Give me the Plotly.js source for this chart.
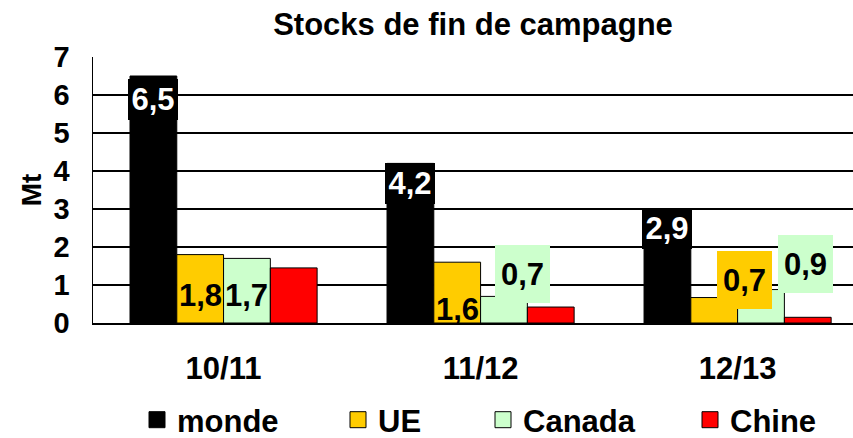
<!DOCTYPE html>
<html>
<head>
<meta charset="utf-8">
<script src="https://cdn.plot.ly/plotly-3.0.1.min.js"></script>
<style>html,body{margin:0;padding:0;background:#fff}#chart{width:853px;height:438px}</style>
</head>
<body>
<div id="chart"></div>
<script>
// ---- data ----
const categories = ['10/11', '11/12', '12/13'];
const seriesNames = ['monde', 'UE', 'Canada', 'Chine'];
const monde  = [6.5, 4.2, 2.9];
const ue     = [1.8, 1.6, 0.67];
const canada = [1.7, 0.7, 0.88];
const chine  = [1.45, 0.42, 0.15];
const yTicks = [0, 1, 2, 3, 4, 5, 6, 7];

// ---- style ----
const FONT = 'Liberation Sans, Arial, sans-serif';
const colors = ['#000000', '#FFCC00', '#CCFFCC', '#FF0000'];
const W = 853, H = 438;
const M = {l: 93, r: 0, t: 57, b: 115};
const xRange = [-0.508, 2.449];
const bargap = 0.272;
const legendLeftPx = [137, 338, 483, 690];   // legend entry positions (px)
const legendIds = ['legend', 'legend2', 'legend3', 'legend4'];

// label styling per series: [dx, dy] offsets (px) of label centre from bar top-centre
const labelStyle = {
  0: {color: '#fff', off: [[0, 23], [0, 20], [0, 16]], boxIdx: [0, 1, 2]},
  1: {color: '#000', off: [[0, 40], [0, 47], [30, -18]], boxIdx: [2]},
  2: {color: '#000', off: [[0, 37], [19, -22], [45, -26]], boxIdx: [1, 2]}
};

const allSeries = [monde, ue, canada, chine];
const fmt = v => v.toFixed(1).replace('.', ',');

const traces = allSeries.map((vals, i) => ({
  type: 'bar',
  name: seriesNames[i],
  showlegend: false,
  x: categories,
  y: vals,
  marker: {color: colors[i], line: {color: '#000', width: 1}},
  hoverinfo: 'skip'
}));
// legend entries (square keys, one per series)
seriesNames.forEach((nm, i) => {
  traces.push({
    type: 'scatter', mode: 'markers', name: nm, legend: legendIds[i],
    x: [null], y: [null], showlegend: true, hoverinfo: 'skip',
    marker: {symbol: 'square', size: 16, color: colors[i], line: {color: '#000', width: 1}}
  });
});

const plotW = W - M.l - M.r;
const catPx = plotW / (xRange[1] - xRange[0]);
const barPx = catPx * (1 - bargap) / 4;

const annotations = [];
Object.keys(labelStyle).forEach(k => {
  const si = +k, st = labelStyle[si];
  allSeries[si].forEach((v, ci) => {
    const [dx, dy] = st.off[ci];
    const boxed = st.boxIdx.includes(ci);
    annotations.push({
      x: categories[ci], y: v, xref: 'x', yref: 'y',
      xanchor: 'center', yanchor: 'middle',
      xshift: (si - 1.5) * barPx + dx, yshift: -dy,
      text: fmt(v), showarrow: false,
      font: {family: FONT, size: 31, color: st.color, weight: 'bold'},
      bgcolor: boxed ? colors[si] : 'rgba(0,0,0,0)',
      width: si === 0 ? 44 : 49, height: si === 0 ? 35 : 52,
      borderpad: 3, borderwidth: 0
    });
  });
});

const legendFont = {family: FONT, size: 31, color: '#000', weight: 'bold'};
const layout = {
  width: W, height: H,
  margin: M,
  paper_bgcolor: '#fff', plot_bgcolor: '#fff',
  font: {family: FONT, color: '#000', weight: 'bold'},
  title: {text: 'Stocks de fin de campagne', x: 0.5, xref: 'paper', y: 0.945, yref: 'container', yanchor: 'middle',
          font: {family: FONT, size: 31, color: '#000', weight: 'bold'}},
  barmode: 'group', bargap: bargap, bargroupgap: 0,
  xaxis: {
    range: xRange, type: 'category', categoryarray: categories, categoryorder: 'array',
    showline: true, linecolor: '#000', linewidth: 1.5,
    showgrid: false, ticks: '', ticklabelstandoff: 17,
    tickfont: {family: FONT, size: 31, color: '#000', weight: 'bold'}
  },
  yaxis: {
    range: [0, 7], tickvals: yTicks, ticktext: yTicks.map(String),
    showline: true, linecolor: '#000', linewidth: 1.5,
    showgrid: true, gridcolor: '#000', gridwidth: 1.2, zeroline: false,
    ticks: '', ticklabelstandoff: 16,
    tickfont: {family: FONT, size: 29, color: '#000', weight: 'bold'},
    title: {text: 'Mt', standoff: 4, font: {family: FONT, size: 28, color: '#000', weight: 'bold'}}
  },
  showlegend: true,
  annotations: annotations
};
legendIds.forEach((id, i) => {
  layout[id] = {orientation: 'h', xref: 'container', yref: 'container',
    x: legendLeftPx[i] / W, y: 0.041, xanchor: 'left', yanchor: 'middle',
    bgcolor: 'rgba(0,0,0,0)', font: legendFont, itemclick: false};
});

Plotly.newPlot('chart', traces, layout, {staticPlot: true, displayModeBar: false});
</script>
</body>
</html>
